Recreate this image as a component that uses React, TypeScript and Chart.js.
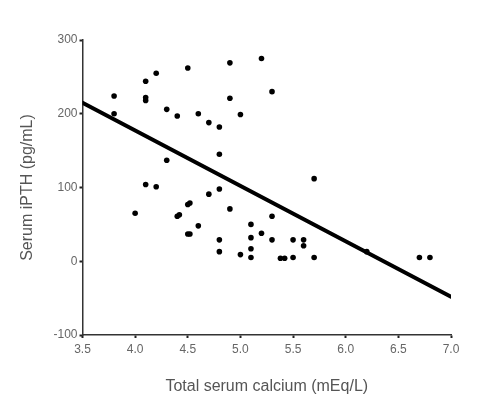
import React, { useEffect, useRef } from "react";
import { Chart, registerables } from "chart.js";

Chart.register(...registerables);

// Scatter data: total serum calcium (mEq/L) vs serum iPTH (pg/mL)
const calcium: number[] = [
  3.8, 3.8, 4.1, 4.1, 4.1, 4.2, 4.5, 4.9, 4.9, 4.3, 4.4, 4.6, 4.7, 4.8, 5.0,
  4.8, 4.3, 4.1, 4.2, 4.7, 4.8, 5.2, 5.3, 5.7, 4.0, 4.4, 4.42, 4.5, 4.52, 4.5,
  4.52, 4.6, 4.8, 4.8, 4.9, 5.0, 5.1, 5.1, 5.1, 5.1, 5.2, 5.3, 5.3, 5.5, 5.6,
  5.6, 5.38, 5.42, 5.5, 5.7, 6.2, 6.7, 6.8,
];
const ipth: number[] = [
  224, 200, 244, 222, 218, 255, 262, 269, 221, 206, 197, 200, 188, 182, 199,
  145, 137, 104, 101, 91, 98, 275, 230, 112, 65, 61, 63, 77, 79, 37,
  37, 48, 29, 13, 71, 9, 50, 32, 17, 5, 38, 61, 29, 29, 29,
  21, 4, 4, 5, 5, 13, 5, 5,
];

// Regression line end points
const fitX: number[] = [3.5, 7.0];
const fitY: number[] = [215, -48];

const xTicks = { min: 3.5, max: 7.0, step: 0.5 };
const yTicks = { min: -100, max: 300, step: 100 };

const xTitle = "Total serum calcium (mEq/L)";
const yTitle = "Serum iPTH (pg/mL)";

export default function App() {
  const ref = useRef<HTMLCanvasElement | null>(null);

  useEffect(() => {
    document.body.style.margin = "0";
    const canvas = ref.current;
    if (!canvas) return;
    const font = "Arial, 'Liberation Sans', Helvetica, sans-serif";
    const chart = new Chart(canvas, {
      type: "scatter",
      data: {
        datasets: [
          {
            type: "line",
            data: fitX.map((x, i) => ({ x, y: fitY[i] })),
            borderColor: "#000",
            borderWidth: 4,
            pointRadius: 0,
            borderCapStyle: "round",
            order: 1,
          } as any,
          {
            data: calcium.map((x, i) => ({ x, y: ipth[i] })),
            backgroundColor: "#000",
            borderColor: "#000",
            borderWidth: 0,
            pointRadius: 2.8,
            order: 0,
          },
        ],
      },
      options: {
        animation: false,
        responsive: false,
        maintainAspectRatio: false,
        layout: { padding: { top: 40, right: 35, left: 0, bottom: 0 } },
        plugins: {
          legend: { display: false },
          tooltip: { enabled: false },
        },
        scales: {
          x: {
            type: "linear",
            min: xTicks.min,
            max: xTicks.max,
            afterFit: (s: any) => {
              s.height = 64;
            },
            ticks: {
              stepSize: xTicks.step,
              color: "#666",
              font: { family: font, size: 12 },
              padding: 4,
              callback: (v: any) => Number(v).toFixed(1),
            },
            grid: {
              display: true,
              drawOnChartArea: false,
              drawTicks: true,
              tickLength: 3,
              tickColor: "#222",
              tickWidth: 2,
            },
            border: { display: true, color: "#333", width: 1.5 },
            title: {
              display: true,
              text: xTitle,
              color: "#555",
              font: { family: font, size: 16 },
              padding: { top: 0, bottom: 3 },
            },
          },
          y: {
            type: "linear",
            min: yTicks.min,
            max: yTicks.max,
            afterFit: (s: any) => {
              s.width = 82.5;
            },
            ticks: {
              stepSize: yTicks.step,
              color: "#666",
              font: { family: font, size: 12 },
              padding: 2,
            },
            grid: {
              display: true,
              drawOnChartArea: false,
              drawTicks: true,
              tickLength: 3,
              tickColor: "#222",
              tickWidth: 2,
            },
            border: { display: true, color: "#333", width: 1.5 },
            title: {
              display: true,
              text: yTitle,
              color: "#555",
              font: { family: font, size: 16 },
              padding: { top: 18, bottom: 0 },
            },
          },
        },
      },
    });
    return () => chart.destroy();
  }, []);

  return (
    <div style={{ width: 486, height: 399, background: "#fff" }}>
      <canvas ref={ref} width={486} height={399} style={{ display: "block" }} />
    </div>
  );
}
